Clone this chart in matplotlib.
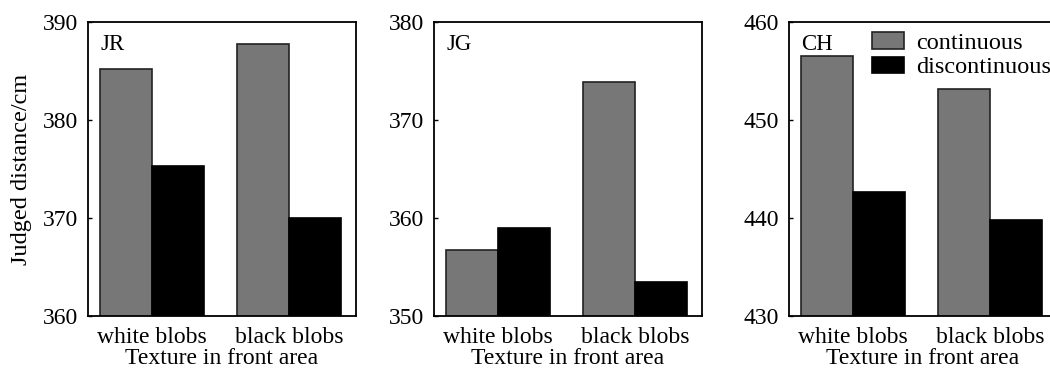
import matplotlib.pyplot as plt
import numpy as np

# texture conditions and observers
textures = ['white blobs', 'black blobs']
observers = ['JR', 'JG', 'CH']

# judged distance (cm) per observer: [white blobs, black blobs]
continuous = {
    'JR': [385.2, 387.8],
    'JG': [356.7, 373.9],
    'CH': [456.5, 453.2],
}
discontinuous = {
    'JR': [375.3, 370.0],
    'JG': [359.0, 353.5],
    'CH': [442.7, 439.8],
}
y_ranges = {
    'JR': (360, 390),
    'JG': (350, 380),
    'CH': (430, 460),
}

plt.rcParams['font.family'] = ['Liberation Serif', 'DejaVu Serif']

fig = plt.figure(figsize=(10.5, 3.71), dpi=100)

# axes positions in figure fraction (left, bottom, width, height)
lefts = [88 / 1050, 434 / 1050, 789 / 1050]
bottom = 1 - 316 / 371
height = (316 - 22) / 371
width = 268 / 1050

gray = '#777777'
x = np.arange(len(textures))
w = 0.38

for i, obs in enumerate(observers):
    ax = fig.add_axes([lefts[i], bottom, width, height])
    ax.bar(x - w / 2, continuous[obs], w, color=gray, edgecolor='#222222',
           linewidth=1.2, label='continuous')
    ax.bar(x + w / 2, discontinuous[obs], w, color='black', edgecolor='black',
           linewidth=1.2, label='discontinuous')
    lo, hi = y_ranges[obs]
    ax.set_ylim(lo, hi)
    ax.set_yticks([lo, lo + 10, lo + 20, hi])
    ax.set_xlim(-0.47, 1.49)
    ax.set_xticks(x)
    ax.set_xticklabels(textures)
    ax.tick_params(axis='y', direction='in', length=3, width=1, labelsize=17, pad=7)
    ax.tick_params(axis='x', length=0, labelsize=17, pad=8)
    for s in ax.spines.values():
        s.set_linewidth(1.3)
    ax.set_xlabel('Texture in front area', fontsize=17, labelpad=0)
    ax.text(0.045, 0.96, obs, transform=ax.transAxes, fontsize=16.5,
            ha='left', va='top')
    if i == 0:
        ax.set_ylabel('Judged distance/cm', fontsize=17.5, labelpad=8)
    if obs == 'CH':
        ax.legend(loc='upper left', bbox_to_anchor=(0.31, 0.965), frameon=False,
                  fontsize=17.5, handlelength=1.3, handleheight=0.68,
                  handletextpad=0.5, labelspacing=0.1, borderpad=0,
                  borderaxespad=0)

fig.savefig('out.png', dpi=100)
